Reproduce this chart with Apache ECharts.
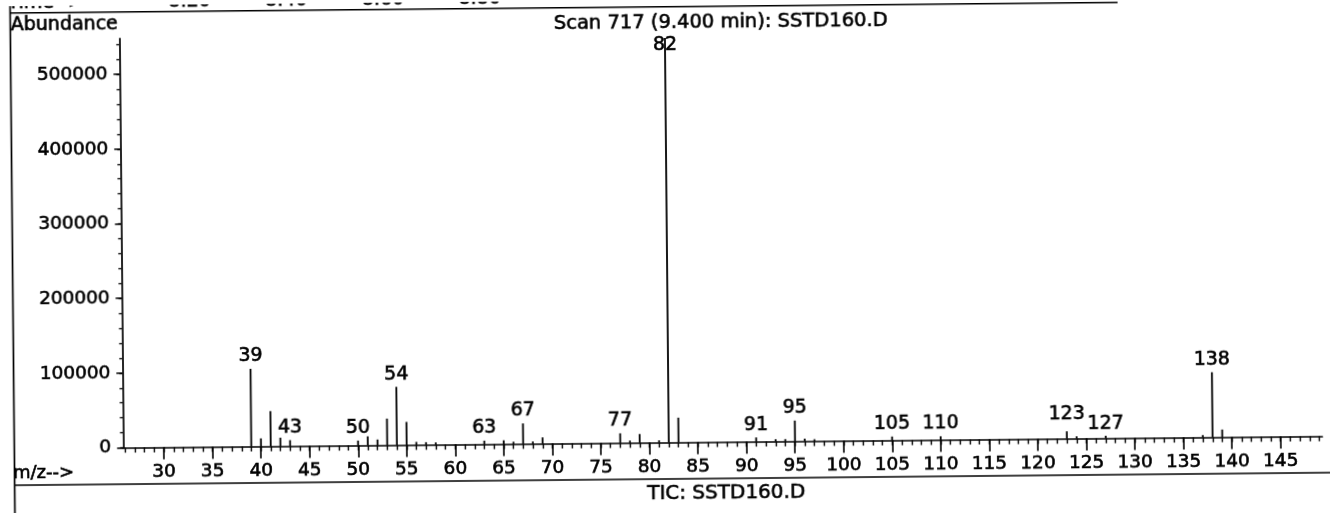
<!DOCTYPE html>
<html><head><meta charset="utf-8">
<script src="https://cdn.jsdelivr.net/npm/echarts@6/dist/echarts.min.js"></script>
<style>
html,body{margin:0;padding:0;background:#fff;overflow:hidden;width:1330px;height:513px;}
#c{width:1330px;height:513px;background:#fff;transform:rotate(-0.55deg);transform-origin:665px 256.5px;}
</style></head><body><div id="c"></div>
<script>
// m/z of each peak and its abundance
const mzValues   = [39, 40, 41, 42, 43, 50, 51, 52, 53, 54, 55, 56, 57, 58, 63, 65, 66, 67, 68, 69, 77, 78, 79, 81, 82, 83, 91, 93, 94, 95, 96, 97, 105, 110, 123, 124, 127, 137, 138, 139];
const abundances = [104000, 10700, 47100, 11400, 8000, 6500, 12200, 7700, 35600, 78000, 30900, 4000, 3500, 3000, 4800, 5000, 3000, 27400, 3000, 8400, 12900, 3000, 11700, 3000, 541800, 33100, 5600, 3000, 3000, 27700, 3500, 2500, 5100, 4800, 9800, 3000, 3200, 3000, 87100, 10200];
// peaks that carry an m/z label
const labeledMz = [39, 43, 50, 54, 63, 67, 77, 82, 91, 95, 105, 110, 123, 127, 138];
// tick labels
const xTickLabels = [30, 35, 40, 45, 50, 55, 60, 65, 70, 75, 80, 85, 90, 95, 100, 105, 110, 115, 120, 125, 130, 135, 140, 145];
const yTickLabels = [0, 100000, 200000, 300000, 400000, 500000];
const timeLabels = ['8.20', '8.40', '8.60', '8.80'];
const titleText = 'Scan 717 (9.400 min): SSTD160.D';
const ticText = 'TIC: SSTD160.D';

const X_MIN = 25.8, X_MAX = 149.3, Y_MAX = 548000;
const FONT = 'DejaVu Sans';
const BOLDEN = 0.6;
const labelNudge = {82: [0, 20], 123: [0, -5]};

const xMinor = [];
for (let v = Math.ceil(X_MIN); v <= X_MAX; v++) xMinor.push(v);
const yMinor = [];
for (let v = 0; v <= Y_MAX; v += 20000) yMinor.push(v);

const barData = mzValues.map((m, i) => {
  const item = {value: [m, abundances[i]]};
  if (labeledMz.includes(m)) {
    item.label = {show: true, formatter: String(m)};
    if (labelNudge[m]) item.label.offset = labelNudge[m];
  }
  return item;
});

const chart = echarts.init(document.getElementById('c'), null, {renderer: 'canvas'});
const txt = (text, x, y, size, align) => ({
  type: 'text', x: x, y: y, silent: true,
  style: {text: text, fontFamily: FONT, fontSize: size, fill: '#000', stroke: '#000', lineWidth: BOLDEN,
          align: align || 'left', verticalAlign: 'middle'}
});
const ln = (x1, y1, x2, y2, w) => ({
  type: 'line', silent: true,
  shape: {x1: x1, y1: y1, x2: x2, y2: y2},
  style: {stroke: '#000', lineWidth: w || 1.5}
});

const graphics = [
  ln(12.5, -20, 12.5, 540, 1.7),
  ln(12.5, 6.8, 1120, 6.8, 1.5),
  ln(12.5, 479, 1345, 479, 1.7),
  txt('Time-->', 10, -3, 19),
  txt('Abundance', 13, 19.5, 19),
  txt(titleText, 723, 22.5, 19.5, 'center'),
  txt('m/z-->', 11, 467.5, 18, 'left'),
  txt(ticText, 724, 493.5, 20, 'center')
];
timeLabels.forEach((t, i) => graphics.push(txt(t, 192 + i * 96.7, -3, 19, 'center')));

const labelFont = {color: '#000', fontFamily: FONT, fontSize: 18.5, textBorderColor: '#000', textBorderWidth: BOLDEN};

chart.setOption({
  animation: false,
  backgroundColor: '#fff',
  grid: {left: 121.3, right: 9.5, top: 33.4, bottom: 70.5, containLabel: false},
  xAxis: [{
    type: 'value', min: X_MIN, max: X_MAX, position: 'bottom',
    axisLine: {show: true, lineStyle: {color: '#000', width: 1.7}},
    axisTick: {show: true, customValues: xTickLabels, length: 12, lineStyle: {color: '#000', width: 1.6}},
    axisLabel: Object.assign({show: true, customValues: xTickLabels, margin: 15, formatter: v => String(v)}, labelFont),
    splitLine: {show: false}
  }, {
    type: 'value', min: X_MIN, max: X_MAX, position: 'bottom', gridIndex: 0,
    axisLine: {show: false},
    axisTick: {show: true, customValues: xMinor, length: 5, lineStyle: {color: '#000', width: 1.4}},
    axisLabel: {show: false},
    splitLine: {show: false}
  }],
  yAxis: [{
    type: 'value', min: 0, max: Y_MAX, position: 'left',
    axisLine: {show: true, lineStyle: {color: '#000', width: 1.7}},
    axisTick: {show: true, customValues: yTickLabels, length: 6, lineStyle: {color: '#000', width: 1.5}},
    axisLabel: Object.assign({show: true, customValues: yTickLabels, margin: 12, formatter: v => String(v)}, labelFont),
    splitLine: {show: false}
  }, {
    type: 'value', min: 0, max: Y_MAX, position: 'left', gridIndex: 0,
    axisLine: {show: false},
    axisTick: {show: true, customValues: yMinor, length: 3, lineStyle: {color: '#000', width: 1.3}},
    axisLabel: {show: false},
    splitLine: {show: false}
  }],
  series: [{
    type: 'bar', xAxisIndex: 0, yAxisIndex: 0,
    barWidth: 1.8,
    itemStyle: {color: '#000'},
    label: {show: false, position: 'top', distance: 3, color: '#000', fontFamily: FONT, fontSize: 19,
            textBorderColor: '#000', textBorderWidth: BOLDEN},
    data: barData
  }],
  graphic: graphics
});
</script></body></html>
